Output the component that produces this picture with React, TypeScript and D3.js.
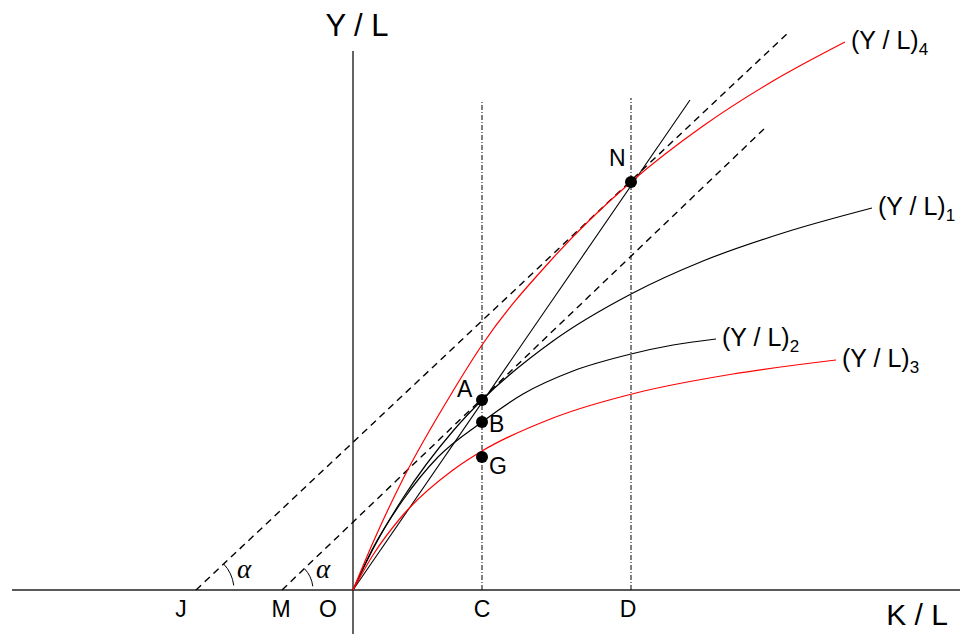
import React from "react";
import * as d3 from "d3";

// K/L and Y/L in chart units (1 unit = 10px on screen)
const curve1 = [[0, 0], [2, 4.1], [5, 9.2], [10, 15.9], [12.9, 19.0], [20, 24.9], [27.8, 29.6], [35, 32.9], [43, 35.7], [51.9, 38.2]];
const curve2 = [[0, 0], [2, 4.2], [5, 9.0], [8.5, 13.3], [12.9, 16.8], [17, 19.6], [22, 21.9], [27.8, 23.6], [32, 24.5], [36.3, 25.1]];
const curve3 = [[0, 0], [2, 3.5], [5, 7.5], [10, 12.0], [12.9, 13.9], [20, 17.2], [28.7, 19.8], [38, 21.6], [48.3, 23.0]];
const curve4 = [[0, 0], [2, 4.75], [5, 11.1], [10, 19.9], [12.9, 24.5], [20, 33.2], [27.8, 40.8], [35, 46.4], [42, 50.9], [49.2, 54.8]];
const curveNames = ["1", "2", "3", "4"];
const curveColors = ["#000", "#000", "red", "red"];

// straight lines: ON chord, and the two parallel dashed lines from J and M
const chordON = [[0, 0], [33.7, 49.0]];
const dashJ = [[-15.7, 0], [43.7, 55.9]];
const dashM = [[-7.1, 0], [41.2, 46.2]];

// points on the horizontal axis
const axisNames = ["J", "M", "O", "C", "D"];
const axisX = [-15.7, -7.1, 0, 12.9, 27.8];
const axisLabelShift = [-15, -1, -25, 0, -3];

// marked points
const pointNames = ["A", "B", "G", "N"];
const pointX = [12.9, 12.9, 12.9, 27.8];
const pointY = [19.0, 16.8, 13.3, 40.8];

// vertical dash-dot lines at C and D
const dropX = [12.9, 27.8];
const dropTop = [48.8, 49.2];

const FONT = "'Liberation Sans', Arial, sans-serif";

export default function App() {
  const x = d3.scaleLinear().domain([0, 10]).range([353, 453]);
  const y = d3.scaleLinear().domain([0, 10]).range([590, 490]);
  const line = d3.line<number[]>().x((d) => x(d[0])).y((d) => y(d[1]));
  const curve = d3.line<number[]>().x((d) => x(d[0])).y((d) => y(d[1])).curve(d3.curveMonotoneX);
  const curves = [curve1, curve2, curve3, curve4];

  // angle marks at J and M
  const slope = Math.atan((dashJ[1][1] - dashJ[0][1]) / (dashJ[1][0] - dashJ[0][0]));
  const arcs = [
    { cx: x(dashJ[0][0]), r: 38 },
    { cx: x(dashM[0][0]), r: 31 },
  ].map((a) => {
    const p = d3.path();
    p.arc(a.cx, y(0), a.r, -slope, -0.12);
    return { ...a, d: p.toString() };
  });

  const pointOffsets: Record<string, [number, number]> = {
    A: [-25, -3],
    B: [7, 10],
    G: [7, 17],
    N: [-22, -16],
  };

  return (
    <svg width={960} height={634} style={{ position: "absolute", left: 0, top: 0 }} fontFamily={FONT}>
      <rect width={960} height={634} fill="#fff" />
      {/* axes */}
      <line x1={x(-34.1)} x2={x(60.7)} y1={y(0)} y2={y(0)} stroke="#222" strokeWidth={1.4} />
      <line x1={x(0)} x2={x(0)} y1={y(-4.4)} y2={y(53.9)} stroke="#222" strokeWidth={1.4} />

      {/* verticals */}
      {dropX.map((d, i) => (
        <line key={i} x1={x(d)} x2={x(d)} y1={y(0)} y2={y(dropTop[i])} stroke="#000" strokeWidth={1} strokeDasharray="5,2,1,2" />
      ))}

      {/* dashed parallels */}
      <path d={line(dashJ) || ""} fill="none" stroke="#000" strokeWidth={1.4} strokeDasharray="7,5" />
      <path d={line(dashM) || ""} fill="none" stroke="#000" strokeWidth={1.4} strokeDasharray="7,5" />

      {/* chord O-N */}
      <path d={line(chordON) || ""} fill="none" stroke="#000" strokeWidth={1.1} />

      {/* production curves */}
      {curves.map((c, i) => (
        <path key={i} d={curve(c) || ""} fill="none" stroke={curveColors[i]} strokeWidth={1.2} />
      ))}
      {curves.map((c, i) => {
        const end = c[c.length - 1];
        return (
          <text key={i} x={x(end[0]) + 6} y={y(end[1]) + 7} fontSize={25} fill="#000">
            (Y / L)
            <tspan fontSize={17} dy={6}>{curveNames[i]}</tspan>
          </text>
        );
      })}

      {/* angle marks */}
      {arcs.map((a, i) => (
        <g key={i}>
          <path d={a.d} fill="none" stroke="#000" strokeWidth={1} />
          <text x={a.cx + a.r + 3} y={y(0) - 12} fontSize={27} fontStyle="italic" fontFamily="'Liberation Serif', 'DejaVu Serif', serif">
            α
          </text>
        </g>
      ))}

      {/* points */}
      {pointNames.map((n, i) => (
        <g key={n}>
          <circle cx={x(pointX[i])} cy={y(pointY[i])} r={6} fill="#000" />
          <text x={x(pointX[i]) + pointOffsets[n][0]} y={y(pointY[i]) + pointOffsets[n][1]} fontSize={23} fill="#000">
            {n}
          </text>
        </g>
      ))}

      {/* axis point labels */}
      {axisNames.map((n, i) => (
        <text key={n} x={x(axisX[i]) + axisLabelShift[i]} y={y(0) + 27} fontSize={23} textAnchor="middle" fill="#000">
          {n}
        </text>
      ))}

      {/* axis titles */}
      <text x={357} y={36} fontSize={31} textAnchor="middle" fill="#000">Y / L</text>
      <text x={917} y={625} fontSize={30} textAnchor="middle" fill="#000">K / L</text>
    </svg>
  );
}
